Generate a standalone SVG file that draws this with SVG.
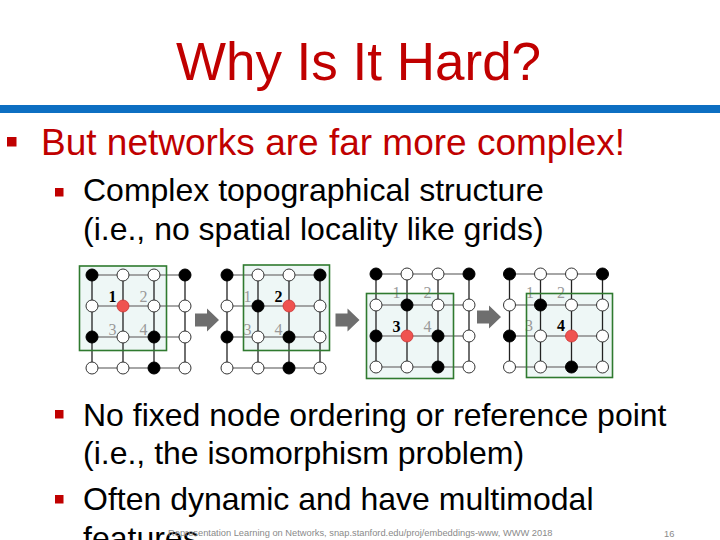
<svg xmlns="http://www.w3.org/2000/svg" xmlns:xlink="http://www.w3.org/1999/xlink" width="720" height="540" viewBox="0 0 720 540">
<style>
.title{font-family:"Liberation Sans",Arial,sans-serif;font-size:53px;fill:#c00000}
.b1{font-family:"Liberation Sans",Arial,sans-serif;font-size:37px;fill:#c00000}
.b2{font-family:"Liberation Sans",Arial,sans-serif;font-size:32px;fill:#000}
.foot{font-family:"Liberation Sans",Arial,sans-serif;font-size:9.3px;fill:#8a8a8a}
.lbl{font-family:"Liberation Serif","Times New Roman",serif;font-size:16px;fill:#999;text-anchor:middle}
.cur{fill:#000;font-weight:bold}
.box{fill:#eef7f6;stroke:none}
.boxs{fill:none;stroke:#2f7a2f;stroke-width:1.6}
.h{stroke:#888;stroke-width:1.3}
.v{stroke:#222;stroke-width:1.3}
.w{fill:#fff;stroke:#333;stroke-width:1}
.k{fill:#000;stroke:#000;stroke-width:1}
.r{fill:#ef5350;stroke:#c33;stroke-width:0.8}
.arr{fill:#6e6e6e}
.sq{fill:#c00000}
</style>
<defs>
<g id="edges">
<line class="h" x1="0" y1="0" x2="93" y2="0"/>
<line class="h" x1="0" y1="31" x2="93" y2="31"/>
<line class="h" x1="0" y1="62" x2="93" y2="62"/>
<line class="h" x1="0" y1="93" x2="93" y2="93"/>
<line class="v" x1="0" y1="0" x2="0" y2="93"/>
<line class="v" x1="31" y1="0" x2="31" y2="93"/>
<line class="v" x1="62" y1="0" x2="62" y2="93"/>
<line class="v" x1="93" y1="0" x2="93" y2="93"/>
</g>
<circle id="wn" class="w" r="6"/>
<circle id="kn" class="k" r="6"/>
<circle id="rn" class="r" r="6"/>
<path id="arrow" class="arr" d="M0,-6.5 H12 V-11.5 L24,0 L12,11.5 V6.5 H0 Z"/>
</defs>
<rect width="720" height="540" fill="#fff"/>
<text class="title" x="358.5" y="80" text-anchor="middle">Why Is It Hard?</text>
<rect x="0" y="105" width="720" height="8" fill="#0d6fc2"/>
<rect class="sq" x="7" y="137" width="9.5" height="9.5"/>
<text class="b1" x="41" y="155">But networks are far more complex!</text>
<rect class="sq" x="55" y="188" width="8.5" height="8.5"/>
<text class="b2" x="83" y="201">Complex topographical structure</text>
<text class="b2" x="83" y="240">(i.e., no spatial locality like grids)</text>
<rect class="sq" x="55" y="410" width="8.5" height="8.5"/>
<text class="b2" x="83" y="426">No fixed node ordering or reference point</text>
<text class="b2" x="83" y="464">(i.e., the isomorphism problem)</text>
<rect class="sq" x="55" y="495" width="8.5" height="8.5"/>
<text class="b2" x="83" y="510">Often dynamic and have multimodal</text>
<text class="b2" x="83" y="549">features</text>
<text class="foot" x="168" y="536">Representation Learning on Networks, snap.stanford.edu/proj/embeddings-www, WWW 2018</text>
<text class="foot" x="664" y="537">16</text>

<g id="grid1">
<rect class="box" x="79.5" y="266" width="87" height="84.5"/>
<use xlink:href="#edges" transform="translate(92,275)"/>
<text class="lbl cur" x="112.5" y="302">1</text>
<text class="lbl" x="143.5" y="302">2</text>
<text class="lbl" x="112.5" y="335">3</text>
<text class="lbl" x="143.5" y="335">4</text>
<rect class="boxs" x="79.5" y="266" width="87" height="84.5"/>
<g transform="translate(92,275)">
<use xlink:href="#kn" x="0" y="0"/><use xlink:href="#wn" x="31" y="0"/><use xlink:href="#wn" x="62" y="0"/><use xlink:href="#kn" x="93" y="0"/>
<use xlink:href="#wn" x="0" y="31"/><use xlink:href="#rn" x="31" y="31"/><use xlink:href="#wn" x="62" y="31"/><use xlink:href="#wn" x="93" y="31"/>
<use xlink:href="#kn" x="0" y="62"/><use xlink:href="#wn" x="31" y="62"/><use xlink:href="#kn" x="62" y="62"/><use xlink:href="#wn" x="93" y="62"/>
<use xlink:href="#wn" x="0" y="93"/><use xlink:href="#wn" x="31" y="93"/><use xlink:href="#kn" x="62" y="93"/><use xlink:href="#wn" x="93" y="93"/>
</g>
</g>

<g id="grid2">
<rect class="box" x="243.5" y="265" width="86" height="85.5"/>
<use xlink:href="#edges" transform="translate(227,275)"/>
<text class="lbl" x="247.5" y="302">1</text>
<text class="lbl cur" x="278.5" y="302">2</text>
<text class="lbl" x="247.5" y="335">3</text>
<text class="lbl" x="278.5" y="335">4</text>
<rect class="boxs" x="243.5" y="265" width="86" height="85.5"/>
<g transform="translate(227,275)">
<use xlink:href="#kn" x="0" y="0"/><use xlink:href="#wn" x="31" y="0"/><use xlink:href="#wn" x="62" y="0"/><use xlink:href="#kn" x="93" y="0"/>
<use xlink:href="#wn" x="0" y="31"/><use xlink:href="#kn" x="31" y="31"/><use xlink:href="#rn" x="62" y="31"/><use xlink:href="#wn" x="93" y="31"/>
<use xlink:href="#kn" x="0" y="62"/><use xlink:href="#wn" x="31" y="62"/><use xlink:href="#kn" x="62" y="62"/><use xlink:href="#wn" x="93" y="62"/>
<use xlink:href="#wn" x="0" y="93"/><use xlink:href="#wn" x="31" y="93"/><use xlink:href="#kn" x="62" y="93"/><use xlink:href="#wn" x="93" y="93"/>
</g>
</g>

<g id="grid3">
<rect class="box" x="366.5" y="293.5" width="87" height="85"/>
<use xlink:href="#edges" transform="translate(376,274)"/>
<text class="lbl" x="396.5" y="298">1</text>
<text class="lbl" x="427.5" y="298">2</text>
<text class="lbl cur" x="396.5" y="332">3</text>
<text class="lbl" x="427.5" y="332">4</text>
<rect class="boxs" x="366.5" y="293.5" width="87" height="85"/>
<g transform="translate(376,274)">
<use xlink:href="#kn" x="0" y="0"/><use xlink:href="#wn" x="31" y="0"/><use xlink:href="#wn" x="62" y="0"/><use xlink:href="#kn" x="93" y="0"/>
<use xlink:href="#wn" x="0" y="31"/><use xlink:href="#kn" x="31" y="31"/><use xlink:href="#wn" x="62" y="31"/><use xlink:href="#wn" x="93" y="31"/>
<use xlink:href="#kn" x="0" y="62"/><use xlink:href="#rn" x="31" y="62"/><use xlink:href="#kn" x="62" y="62"/><use xlink:href="#wn" x="93" y="62"/>
<use xlink:href="#wn" x="0" y="93"/><use xlink:href="#wn" x="31" y="93"/><use xlink:href="#kn" x="62" y="93"/><use xlink:href="#wn" x="93" y="93"/>
</g>
</g>

<g id="grid4">
<rect class="box" x="526.5" y="293.5" width="86" height="84"/>
<use xlink:href="#edges" transform="translate(509.5,274)"/>
<text class="lbl" x="530" y="298">1</text>
<text class="lbl" x="561" y="298">2</text>
<text class="lbl" x="529" y="331">3</text>
<text class="lbl cur" x="561" y="331">4</text>
<rect class="boxs" x="526.5" y="293.5" width="86" height="84"/>
<g transform="translate(509.5,274)">
<use xlink:href="#kn" x="0" y="0"/><use xlink:href="#wn" x="31" y="0"/><use xlink:href="#wn" x="62" y="0"/><use xlink:href="#kn" x="93" y="0"/>
<use xlink:href="#wn" x="0" y="31"/><use xlink:href="#kn" x="31" y="31"/><use xlink:href="#wn" x="62" y="31"/><use xlink:href="#wn" x="93" y="31"/>
<use xlink:href="#kn" x="0" y="62"/><use xlink:href="#wn" x="31" y="62"/><use xlink:href="#rn" x="62" y="62"/><use xlink:href="#wn" x="93" y="62"/>
<use xlink:href="#wn" x="0" y="93"/><use xlink:href="#wn" x="31" y="93"/><use xlink:href="#kn" x="62" y="93"/><use xlink:href="#wn" x="93" y="93"/>
</g>
</g>

<g id="connectors">
<use xlink:href="#arrow" transform="translate(195,320)"/>
<use xlink:href="#arrow" transform="translate(335.5,320)"/>
<use xlink:href="#arrow" transform="translate(477,317)"/>
</g>
</svg>
